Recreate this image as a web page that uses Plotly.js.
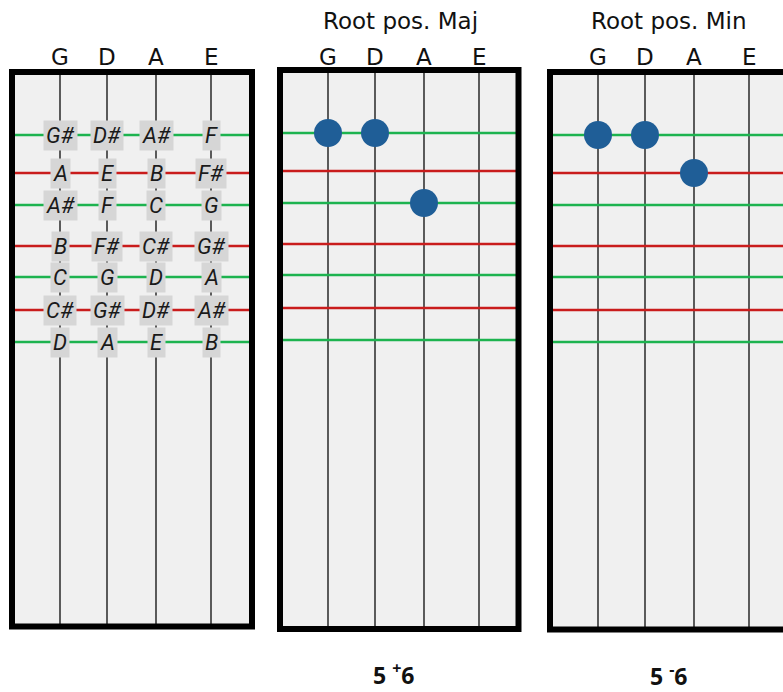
<!DOCTYPE html>
<html>
<head>
<meta charset="utf-8">
<script src="https://cdn.plot.ly/plotly-3.0.1.min.js"></script>
<style>html,body{margin:0;padding:0;background:#fff;}#chart{width:783px;height:692px;}</style>
</head>
<body>
<div id="chart"></div>
<script>
// ---- data ----
const strings = ['G', 'D', 'A', 'E'];
const frets = [1, 2, 3, 4, 5, 6, 7];
// fret line positions along the fingerboard (panel units)
const fretPos = [63, 101, 133, 174, 205, 238, 270];
const notesG = ['G#', 'A', 'A#', 'B', 'C', 'C#', 'D'];
const notesD = ['D#', 'E', 'F', 'F#', 'G', 'G#', 'A'];
const notesA = ['A#', 'B', 'C', 'C#', 'D', 'D#', 'E'];
const notesE = ['F', 'F#', 'G', 'G#', 'A', 'A#', 'B'];
const majStrings = ['G', 'D', 'A'];
const majFrets = [1, 1, 3];
const minStrings = ['G', 'D', 'A'];
const minFrets = [1, 1, 2];
const panelTitles = ['', 'Root pos. Maj', 'Root pos. Min'];
const bottomLabels = ['', '<b>5 <sup>+</sup>6</b>', '<b>5 <sup>-</sup>6</b>'];

// ---- layout constants (positions / styles) ----
const W = 783, H = 692;
const stringPos = [0, 47, 96, 151];
const panels = [
  {x0: 12, x1: 252, y0: 72, y1: 626.5, open: false, titleX: 0, labelX: 0, labelY: 0},
  {x0: 280, x1: 518.5, y0: 70, y1: 629, open: false, titleX: 400, labelX: 393.5, labelY: 673.5},
  {x0: 550, x1: 783, y0: 72, y1: 629.5, open: true, titleX: 669, labelX: 668, labelY: 675}
];
const fretColors = ['#1db34f', '#c91c1c'];
const stringColor = '#4a4a4a';
const dotColor = '#1f5e97';
const noteFont = {family: 'Roboto, sans-serif', size: 22, color: '#1a1a1a', style: 'italic'};
const titleFont = {family: 'DejaVu Sans, sans-serif', size: 23, color: '#111'};

const sx = s => stringPos[strings.indexOf(s)];
const fy = f => fretPos[frets.indexOf(f)];

const layout = {
  width: W, height: H,
  margin: {l: 0, r: 0, t: 0, b: 0},
  paper_bgcolor: '#ffffff',
  plot_bgcolor: '#f0f0f0',
  showlegend: false,
  shapes: [],
  annotations: []
};

panels.forEach((p, i) => {
  const n = i === 0 ? '' : String(i + 1);
  const xa = 'xaxis' + n, ya = 'yaxis' + n;
  const xr = 'x' + n, yr = 'y' + n;
  layout[xa] = {
    domain: [p.x0 / W, p.x1 / W],
    range: [-48, (p.x1 - p.x0) - 48],
    anchor: yr,
    showgrid: false, zeroline: false, showticklabels: false, showline: false, fixedrange: true
  };
  layout[ya] = {
    domain: [1 - p.y1 / H, 1 - p.y0 / H],
    range: [p.y1 - p.y0, 0],
    anchor: xr,
    showgrid: false, zeroline: false, showticklabels: false, showline: false, fixedrange: true
  };
  // strings
  strings.forEach(s => {
    layout.shapes.push({type: 'line', layer: 'below', xref: xr, yref: yr + ' domain',
      x0: sx(s), x1: sx(s), y0: 0, y1: 1, line: {color: stringColor, width: 1.8}});
  });
  // fret lines
  frets.forEach((f, k) => {
    layout.shapes.push({type: 'line', layer: 'below', xref: xr + ' domain', yref: yr,
      x0: 0, x1: 1, y0: fy(f), y1: fy(f), line: {color: fretColors[k % 2], width: 2.5}});
  });
  // border
  layout.shapes.push({type: 'rect', layer: 'above', xref: 'paper', yref: 'paper',
    x0: p.x0 / W, x1: p.open ? 1.03 : p.x1 / W, y0: 1 - p.y1 / H, y1: 1 - p.y0 / H,
    line: {color: '#000', width: 6}, fillcolor: 'rgba(0,0,0,0)'});
  // string name labels
  strings.forEach(s => {
    layout.annotations.push({xref: xr, yref: 'paper', x: sx(s), y: 1 - 57 / H,
      text: s, showarrow: false, xanchor: 'center', yanchor: 'middle', font: titleFont});
  });
  if (panelTitles[i]) {
    layout.annotations.push({xref: 'paper', yref: 'paper', x: p.titleX / W, y: 1 - 21 / H,
      text: panelTitles[i], showarrow: false, xanchor: 'center', yanchor: 'middle', font: titleFont});
  }
  if (bottomLabels[i]) {
    layout.annotations.push({xref: 'paper', yref: 'paper', x: p.labelX / W, y: 1 - p.labelY / H,
      text: bottomLabels[i], showarrow: false, xanchor: 'center', yanchor: 'middle',
      font: {family: 'Open Sans, sans-serif', size: 23, color: '#111'}});
  }
});

// note names on the first panel
const noteCols = [notesG, notesD, notesA, notesE];
strings.forEach((s, si) => {
  noteCols[si].forEach((name, k) => {
    layout.annotations.push({xref: 'x', yref: 'y', x: sx(s), y: fy(frets[k]),
      text: name, showarrow: false, xanchor: 'center', yanchor: 'middle',
      bgcolor: '#d6d6d6', borderpad: 2, font: noteFont});
  });
});

const traces = [
  {type: 'scatter', mode: 'markers', xaxis: 'x2', yaxis: 'y2',
   x: majStrings.map(sx), y: majFrets.map(fy),
   marker: {size: 28, color: dotColor}, hoverinfo: 'skip'},
  {type: 'scatter', mode: 'markers', xaxis: 'x3', yaxis: 'y3',
   x: minStrings.map(sx), y: minFrets.map(fy),
   marker: {size: 28, color: dotColor}, hoverinfo: 'skip'}
];

Plotly.newPlot('chart', traces, layout, {staticPlot: true, displayModeBar: false});
</script>
</body>
</html>
